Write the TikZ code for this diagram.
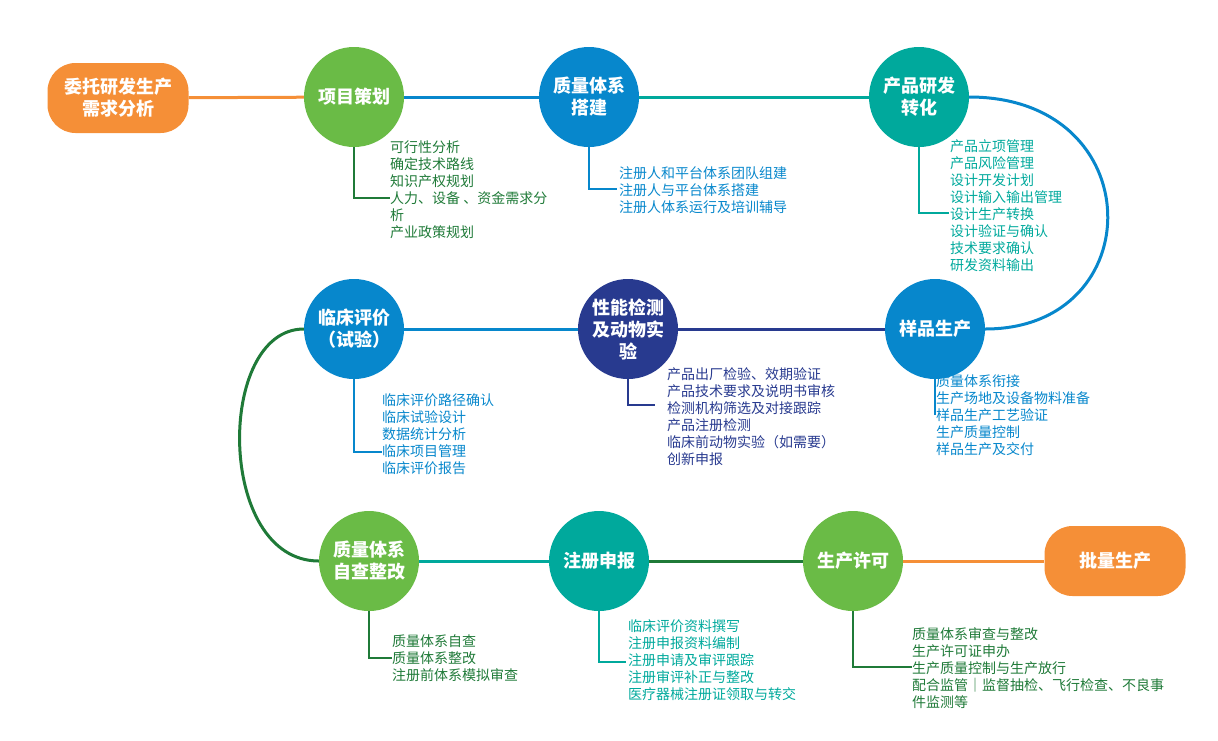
\documentclass[tikz,border=0pt]{standalone}
\usepackage{fontspec}
\setmainfont{Noto Sans CJK SC}
\usetikzlibrary{shapes.geometric}

\definecolor{narancs}{HTML}{F58F37}
\definecolor{zold}{HTML}{6ABB46}
\definecolor{kek}{HTML}{0787CC}
\definecolor{turkiz}{HTML}{00A99C}
\definecolor{sotetkek}{HTML}{283A8F}
\definecolor{sotetzold}{HTML}{1F7A38}

\begin{document}
\begin{tikzpicture}[x=1pt,y=-1pt,
    kor/.style={circle,inner sep=0pt,minimum size=100pt,text=white,align=center,
        font=\fontsize{18}{22}\selectfont\bfseries},
    doboz/.style={rectangle,rounded corners=28pt,minimum width=141pt,minimum height=70pt,
        fill=narancs,text=white,align=center,font=\fontsize{18}{22}\selectfont\bfseries},
    vonal/.style={line width=3pt},
    ag/.style={line width=2pt},
    lista/.style={anchor=north west,inner sep=0pt,align=left,font=\fontsize{14}{17}\selectfont}]
    \useasboundingbox (0,0) rectangle (1218,740);

    % Felső sor
    \node[doboz] (wtyf) at (118,98) {委托研发生产\\需求分析};
    \node[kor,fill=zold] (xmch) at (354,97) {项目策划};
    \node[kor,fill=kek] (zltx) at (589,97) {质量体系\\搭建};
    \node[kor,fill=turkiz] (cpyf) at (919,97) {产品研发\\转化};

    % Középső sor
    \node[kor,fill=kek] (ypsc) at (935,329) {样品生产};
    \node[kor,fill=sotetkek] (xnjc) at (628,329) {性能检测\\及动物实\\验};
    \node[kor,fill=kek] (lcpj) at (354,329) {临床评价\\（试验）};

    % Alsó sor
    \node[kor,fill=zold] (zczg) at (369,561) {质量体系\\自查整改};
    \node[kor,fill=turkiz] (zcsb) at (599,561) {注册申报};
    \node[kor,fill=zold] (scxk) at (853,561) {生产许可};
    \node[doboz] (plsc) at (1115,561) {批量生产};

    % Összekötő vonalak
    \draw[vonal,narancs] (wtyf) -- (xmch);
    \draw[vonal,kek] (xmch) -- (zltx);
    \draw[vonal,turkiz] (zltx) -- (cpyf);
    \draw[vonal,kek] (cpyf.east) .. controls +(182,0) and +(166,0) .. (ypsc.east);
    \draw[vonal,sotetkek] (ypsc) -- (xnjc);
    \draw[vonal,kek] (xnjc) -- (lcpj);
    \draw[vonal,sotetzold] (lcpj.west) .. controls +(-88,0) and +(-103,0) .. (zczg.west);
    \draw[vonal,turkiz] (zczg) -- (zcsb);
    \draw[vonal,sotetzold] (zcsb) -- (scxk);
    \draw[vonal,narancs] (scxk) -- (plsc);

    % Listák
    \node[lista,text=sotetzold] (xmch-l) at (390,141)
        {可行性分析\\确定技术路线\\知识产权规划\\人力、设备 、资金需求分\\析\\产业政策规划};
    \node[lista,text=kek] (zltx-l) at (619,166)
        {注册人和平台体系团队组建\\注册人与平台体系搭建\\注册人体系运行及培训辅导};
    \node[lista,text=turkiz] (cpyf-l) at (950,139)
        {产品立项管理\\产品风险管理\\设计开发计划\\设计输入输出管理\\设计生产转换\\设计验证与确认\\技术要求确认\\研发资料输出};
    \node[lista,text=kek] (ypsc-l) at (936,375)
        {质量体系衔接\\生产场地及设备物料准备\\样品生产工艺验证\\生产质量控制\\样品生产及交付};
    \node[lista,text=sotetkek] (xnjc-l) at (667,367)
        {产品出厂检验、效期验证\\产品技术要求及说明书审核\\检测机构筛选及对接跟踪\\产品注册检测\\临床前动物实验（如需要）\\创新申报};
    \node[lista,text=kek] (lcpj-l) at (382,393)
        {临床评价路径确认\\临床试验设计\\数据统计分析\\临床项目管理\\临床评价报告};
    \node[lista,text=sotetzold] (zczg-l) at (392,634)
        {质量体系自查\\质量体系整改\\注册前体系模拟审查};
    \node[lista,text=turkiz] (zcsb-l) at (628,619)
        {临床评价资料撰写\\注册申报资料编制\\注册申请及审评跟踪\\注册审评补正与整改\\医疗器械注册证领取与转交};
    \node[lista,text=sotetzold] (scxk-l) at (912,627)
        {质量体系审查与整改\\生产许可证申办\\生产质量控制与生产放行\\配合监管｜监督抽检、飞行检查、不良事\\件监测等};

    % Ágak
    \coordinate (xmch-k) at (390,198);
    \coordinate (zltx-k) at (617,189);
    \coordinate (cpyf-k) at (949,213);
    \coordinate (ypsc-k) at (935,415);
    \coordinate (xnjc-k) at (655,405);
    \coordinate (lcpj-k) at (382,452);
    \coordinate (zczg-k) at (392,658);
    \coordinate (zcsb-k) at (626,662);
    \coordinate (scxk-k) at (912,667);
    \draw[ag,sotetzold] (xmch.south) |- (xmch-k);
    \draw[ag,kek] (zltx.south) |- (zltx-k);
    \draw[ag,turkiz] (cpyf.south) |- (cpyf-k);
    \draw[ag,kek] (ypsc.south) -- (ypsc-k);
    \draw[ag,sotetkek] (xnjc.south) |- (xnjc-k);
    \draw[ag,kek] (lcpj.south) |- (lcpj-k);
    \draw[ag,sotetzold] (zczg.south) |- (zczg-k);
    \draw[ag,turkiz] (zcsb.south) |- (zcsb-k);
    \draw[ag,sotetzold] (scxk.south) |- (scxk-k);
\end{tikzpicture}
\end{document}
